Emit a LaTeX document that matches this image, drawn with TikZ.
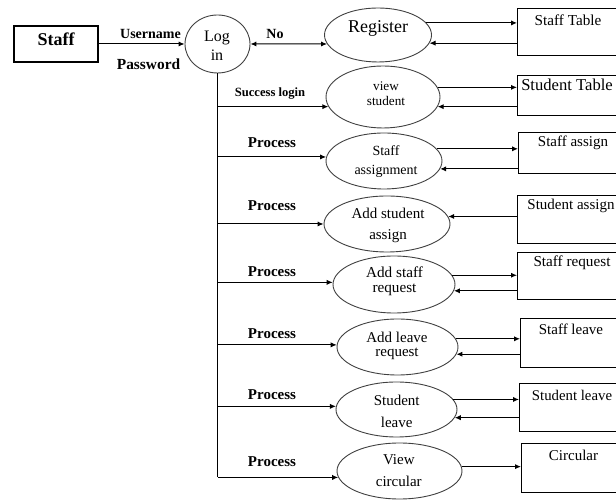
\documentclass[tikz,border=0pt]{standalone}
\usepackage{fontspec}
\setmainfont{Liberation Serif}
\usetikzlibrary{shapes.geometric,arrows.meta}
\newcommand{\myfs}[2]{\fontsize{#1}{#2}\selectfont}
\begin{document}
\begin{tikzpicture}[x=0.5pt,y=-0.5pt,
  proc/.style={ellipse,draw=black!75,line width=0.45pt,inner sep=0pt},
  tbox/.style={rectangle,draw,line width=0.65pt,inner sep=0pt,anchor=north west,minimum width=60pt},
  txt/.style={inner sep=0pt,align=center},
  lab/.style={inner sep=0pt,font=\myfs{7.5}{9}\bfseries},
  arr/.style={line width=0.5pt,-{Latex[length=3pt,width=2.6pt]}},
  darr/.style={line width=0.5pt,{Latex[length=3pt,width=2.6pt]}-{Latex[length=3pt,width=2.6pt]}},
  ln/.style={line width=0.5pt}]
\useasboundingbox (0,0) rectangle (616,501);
\clip (0,0) rectangle (616,501);

% source
\node[draw,line width=0.7pt,minimum width=42pt,minimum height=18pt,inner sep=0pt] (staff) at (56,44) {};
\node[txt,font=\myfs{9}{10}\bfseries] (stafft) at (56,39) {Staff};

% ellipses
\node[proc,minimum width=32.5pt,minimum height=29pt] (login) at (217.5,44) {};
\node[proc,minimum width=53.5pt,minimum height=27pt] (reg) at (378,35) {};
\node[proc,minimum width=57pt,minimum height=31pt] (vs) at (383,97) {};
\node[proc,minimum width=58pt,minimum height=28pt] (sa) at (384,161) {};
\node[proc,minimum width=63pt,minimum height=28pt] (as) at (387,224) {};
\node[proc,minimum width=61pt,minimum height=28.5pt] (asr) at (394,284.5) {};
\node[proc,minimum width=60.5pt,minimum height=28pt] (alr) at (397.5,347) {};
\node[proc,minimum width=60.5pt,minimum height=27.5pt] (sl) at (396.5,409.5) {};
\node[proc,minimum width=62.5pt,minimum height=28pt] (vc) at (399.5,471) {};

% ellipse texts
\node[txt,font=\myfs{8}{9.5}] (logint) at (217,45.5) {Log\\in};
\node[txt,font=\myfs{9}{10}] (regt) at (378,28) {Register};
\node[txt,font=\myfs{6.6}{7.5}] (vst) at (386,93.5) {view\\student};
\node[txt,font=\myfs{7}{9.5}] (sat) at (386,161.5) {Staff\\assignment};
\node[txt,font=\myfs{7.5}{10.5}] (ast) at (388,225.5) {Add student\\assign};
\node[txt,font=\myfs{7.6}{7.5}] (asrt) at (394.5,281.5) {Add staff\\request};
\node[txt,font=\myfs{7.5}{7}] (alrt) at (397,346) {Add leave\\request};
\node[txt,font=\myfs{7.5}{11}] (slt) at (396.7,411) {Student\\leave};
\node[txt,font=\myfs{7.5}{11}] (vct) at (398.8,471) {View\\circular};

% data stores
\node[tbox,minimum height=23.5pt] (stb) at (517,8) {};
\node[tbox,minimum height=20pt] (sttb) at (517,75) {};
\node[tbox,minimum height=20.5pt] (sab) at (518,132) {};
\node[tbox,minimum height=24pt] (stab) at (517,195) {};
\node[tbox,minimum height=23.5pt] (srb) at (517,252) {};
\node[tbox,minimum height=24.5pt] (slb) at (520,318) {};
\node[tbox,minimum height=24pt] (stlb) at (519,383) {};
\node[tbox,minimum height=24.5pt] (cib) at (521,443) {};

\node[txt,font=\myfs{7.6}{9}] (stbt) at (568,20) {Staff Table};
\node[txt,font=\myfs{8.3}{9}] (sttbt) at (567,85) {Student Table};
\node[txt,font=\myfs{7.5}{9}] (sabt) at (573,143) {Staff assign};
\node[txt,font=\myfs{7.5}{9}] (stabt) at (571,206) {Student assign};
\node[txt,font=\myfs{7.6}{9}] (srbt) at (572,263) {Staff request};
\node[txt,font=\myfs{7.5}{9}] (slbt) at (571,329) {Staff leave};
\node[txt,font=\myfs{7.4}{9}] (stlbt) at (572,395) {Student leave};
\node[txt,font=\myfs{7.5}{9}] (cibt) at (573.5,455) {Circular};

% flow labels
\node[lab,font=\myfs{7}{9}\bfseries] (user) at (150.5,34) {Username};
\node[lab,font=\myfs{7.7}{9}\bfseries] (pass) at (148.5,64) {Password};
\node[lab,font=\myfs{7}{9}\bfseries] (no) at (275,34) {No};
\node[lab,font=\myfs{6.3}{8}\bfseries] (succ) at (270,94) {Success login};
\node[lab] (p1) at (272,143) {Process};
\node[lab] (p2) at (272,206) {Process};
\node[lab] (p3) at (272,272) {Process};
\node[lab] (p4) at (272,334) {Process};
\node[lab] (p5) at (272,395) {Process};
\node[lab] (p6) at (272,462) {Process};

% connectors
\draw[arr] (staff.east) -- (login.west);
\draw[darr] (login.east) -- (reg.190);
\draw[ln] (login.south) -- (login.south |- vc.186);
\draw[arr] (login.south |- vs.190) -- (vs.190);
\draw[arr] (login.south |- sa.176) -- (sa.176);
\draw[arr] (login.south |- as.180) -- (as.180);
\draw[arr] (login.south |- asr.178) -- (asr.178);
\draw[arr] (login.south |- alr.178) -- (alr.178);
\draw[arr] (login.south |- sl.177) -- (sl.177);
\draw[arr] (login.south |- vc.186) -- (vc.186);

\draw[arr] (reg.14) -- (reg.14 -| stb.west);
\draw[arr] (stb.west |- reg.351) -- (reg.351);
\draw[arr] (vs.10) -- (vs.10 -| sttb.west);
\draw[arr] (sttb.west |- vs.350) -- (vs.350);
\draw[arr] (sa.13) -- (sa.13 -| sab.west);
\draw[arr] (sab.west |- sa.352) -- (sa.352);
\draw[arr] (stab.west |- as.7) -- (as.7);
\draw[arr] (asr.9) -- (asr.9 -| srb.west);
\draw[arr] (srb.west |- asr.354) -- (asr.354);
\draw[arr] (alr.8) -- (alr.8 -| slb.west);
\draw[arr] (slb.west |- alr.353) -- (alr.353);
\draw[arr] (sl.10) -- (sl.10 -| stlb.west);
\draw[arr] (stlb.west |- sl.352) -- (sl.352);
\draw[arr] (vc.4) -- (vc.4 -| cib.west);
\end{tikzpicture}
\end{document}
